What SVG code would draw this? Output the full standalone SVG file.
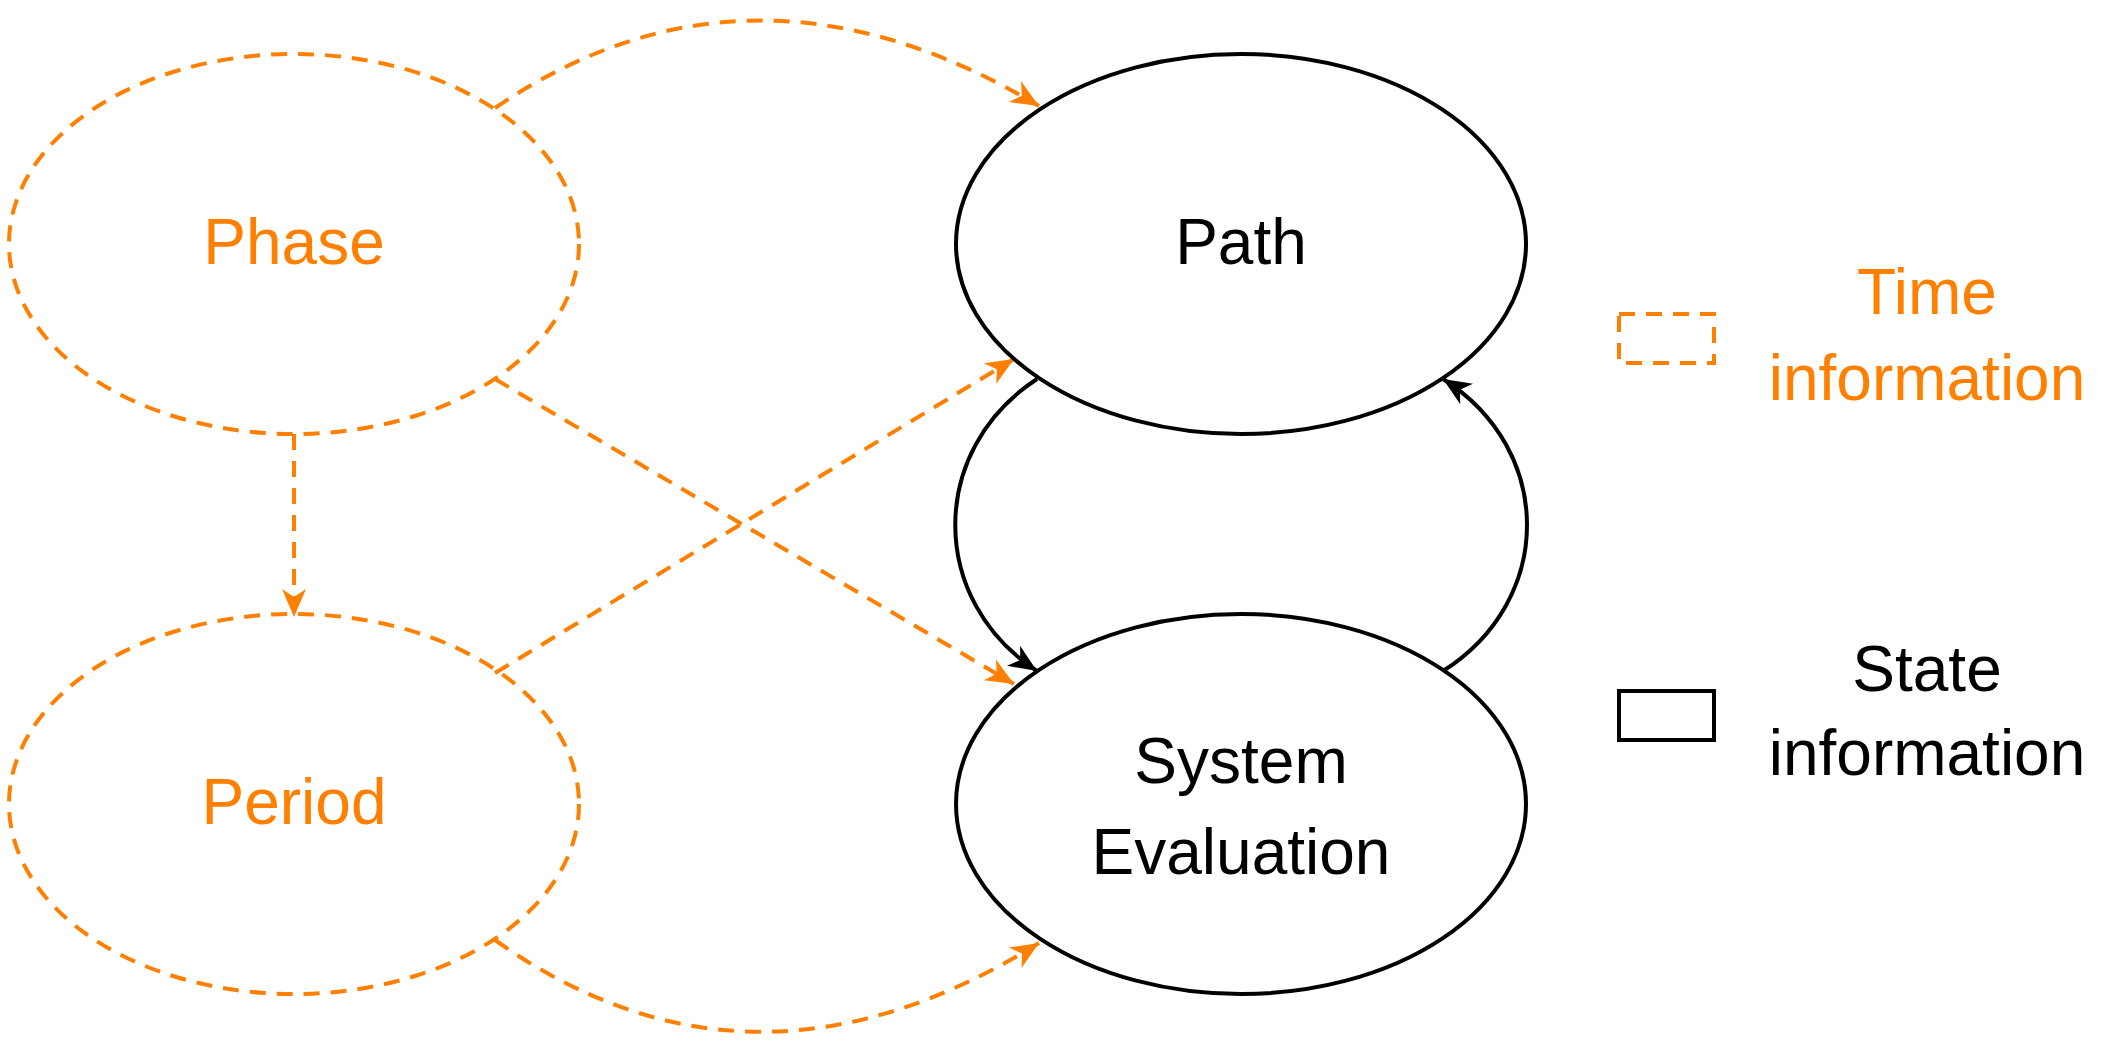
<svg xmlns="http://www.w3.org/2000/svg" width="2125" height="1048" viewBox="0 0 2125 1048">
<style>
.t{font-family:"Liberation Sans",Arial,sans-serif;font-size:64px;text-anchor:middle}
.o{fill:#ff8000}.k{fill:#000}
.dash{fill:none;stroke:#ff8000;stroke-width:4;stroke-dasharray:16 11}
.sol{fill:none;stroke:#000;stroke-width:4}
</style>
<defs>
<marker id="ao" markerUnits="userSpaceOnUse" viewBox="0 0 30 30" refX="28" refY="15" markerWidth="30" markerHeight="30" orient="auto"><path d="M0,3 L28,15 L0,27 L8,15 Z" fill="#ff8000"/></marker>
<marker id="ak" markerUnits="userSpaceOnUse" viewBox="0 0 30 30" refX="28" refY="15" markerWidth="30" markerHeight="30" orient="auto"><path d="M0,3 L28,15 L0,27 L8,15 Z" fill="#000"/></marker>
</defs>
<rect width="2125" height="1048" fill="#fff"/>
<g id="connectors">
<path class="dash" d="M495,108 Q751,-66 1039,106" marker-end="url(#ao)"/>
<path class="dash" d="M495,940 Q751,1122 1039,943" marker-end="url(#ao)"/>
<path class="dash" d="M495,379 L1014,684" marker-end="url(#ao)"/>
<path class="dash" d="M495,673 L1014,359" marker-end="url(#ao)"/>
<path class="dash" d="M294,434 L294,617" marker-end="url(#ao)"/>
<path class="sol" d="M1037,379 C928,450 928,600 1037,671" marker-end="url(#ak)"/>
<path class="sol" d="M1443,671 C1555,600 1555,450 1443,379" marker-end="url(#ak)"/>
</g>
<g id="phase"><ellipse class="dash" cx="294" cy="244" rx="285" ry="190"/><text class="t o" x="294" y="264">Phase</text></g>
<g id="period"><ellipse class="dash" cx="294" cy="804" rx="285" ry="190"/><text class="t o" x="294" y="824">Period</text></g>
<g id="path"><ellipse class="sol" cx="1241" cy="244" rx="285" ry="190"/><text class="t k" x="1241" y="264">Path</text></g>
<g id="syseval"><ellipse class="sol" cx="1241" cy="804" rx="285" ry="190"/><text class="t k" x="1241" y="783">System</text><text class="t k" x="1241" y="874">Evaluation</text></g>
<g id="legend-time"><rect class="dash" x="1619" y="314" width="95" height="49"/><text class="t o" x="1927" y="314">Time</text><text class="t o" x="1927" y="400">information</text></g>
<g id="legend-state"><rect class="sol" x="1619" y="691" width="95" height="49"/><text class="t k" x="1927" y="691">State</text><text class="t k" x="1927" y="775">information</text></g>
</svg>
